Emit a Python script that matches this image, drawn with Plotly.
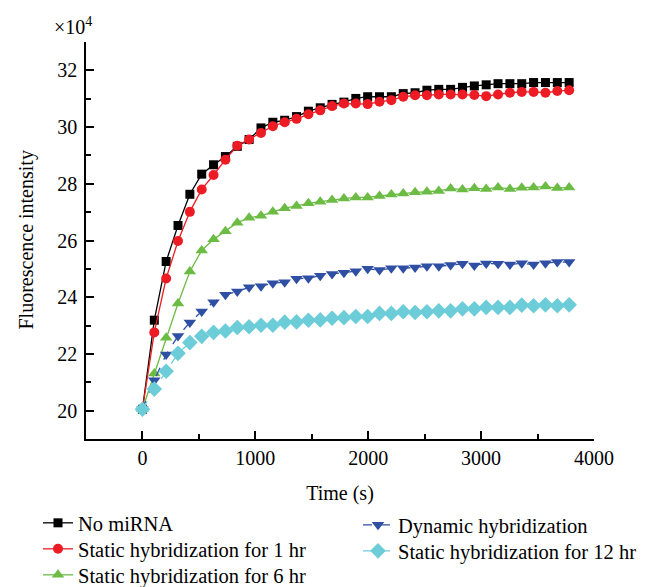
import plotly.graph_objects as go

time_s = [0, 105, 210, 315, 420, 525, 630, 735, 840, 945, 1050, 1155, 1260, 1365,
          1470, 1575, 1680, 1785, 1890, 1995, 2100, 2205, 2310, 2415, 2520, 2625,
          2730, 2835, 2940, 3045, 3150, 3255, 3360, 3465, 3570, 3675, 3780]

no_mirna = [20.05, 23.19, 25.26, 26.53, 27.63, 28.34, 28.67, 28.96, 29.32, 29.56,
            29.97, 30.17, 30.24, 30.37, 30.56, 30.68, 30.80, 30.88, 31.01, 31.07,
            31.07, 31.07, 31.18, 31.21, 31.30, 31.33, 31.33, 31.40, 31.45, 31.49,
            31.53, 31.53, 31.53, 31.57, 31.57, 31.57, 31.57]
static_1hr = [20.05, 22.76, 24.66, 25.98, 27.01, 27.80, 28.31, 28.85, 29.34, 29.56,
              29.79, 30.03, 30.17, 30.29, 30.45, 30.59, 30.74, 30.83, 30.83, 30.81,
              30.89, 30.95, 31.07, 31.12, 31.12, 31.15, 31.15, 31.15, 31.13, 31.09,
              31.15, 31.21, 31.24, 31.24, 31.21, 31.27, 31.30]
static_6hr = [20.05, 21.31, 22.57, 23.78, 24.91, 25.65, 26.04, 26.33, 26.63, 26.80,
              26.87, 27.01, 27.14, 27.22, 27.31, 27.37, 27.43, 27.48, 27.52, 27.52,
              27.57, 27.62, 27.66, 27.70, 27.72, 27.75, 27.83, 27.80, 27.84, 27.82,
              27.87, 27.82, 27.86, 27.87, 27.90, 27.85, 27.87]
dynamic = [20.05, 21.07, 21.98, 22.63, 23.11, 23.50, 23.82, 24.09, 24.20, 24.35,
           24.39, 24.49, 24.53, 24.65, 24.67, 24.76, 24.82, 24.86, 24.92, 25.00,
           24.96, 25.02, 25.02, 25.05, 25.09, 25.09, 25.14, 25.18, 25.12, 25.19,
           25.18, 25.15, 25.20, 25.15, 25.20, 25.24, 25.24]
static_12hr = [20.05, 20.76, 21.39, 22.02, 22.40, 22.62, 22.76, 22.81, 22.93, 22.96,
               23.01, 23.01, 23.12, 23.13, 23.19, 23.20, 23.26, 23.28, 23.32, 23.32,
               23.43, 23.43, 23.49, 23.46, 23.49, 23.52, 23.52, 23.59, 23.59, 23.64,
               23.64, 23.64, 23.72, 23.70, 23.73, 23.70, 23.73]

series_names = ["No miRNA", "Static hybridization for 1 hr", "Static hybridization for 6 hr",
                "Dynamic hybridization", "Static hybridization for 12 hr"]

x_ticks = [0, 1000, 2000, 3000, 4000]
y_ticks = [20, 22, 24, 26, 28, 30, 32]

FONT = "Liberation Serif"
fig = go.Figure()

styles = [
    (no_mirna, "#000000", "square", 9, "solid", "legend"),
    (static_1hr, "#ED1C24", "circle", 10, "solid", "legend2"),
    (static_6hr, "#6CBB45", "triangle-up", 11, "solid", "legend3"),
    (dynamic, "#2E4FA3", "triangle-down", 11, "dash", "legend4"),
    (static_12hr, "#6CCDD9", "diamond", 12, "dash", "legend5"),
]
for name, (vals, color, sym, size, dash, lg) in zip(series_names, styles):
    fig.add_trace(go.Scatter(
        x=time_s, y=vals, name=name, mode="lines+markers",
        line=dict(color=color, width=1.3, dash=dash),
        marker=dict(symbol=sym, size=size, color=color),
        legend=lg, showlegend=True,
    ))

PLOT_TOP, PLOT_BOTTOM, PLOT_LEFT, PLOT_RIGHT = 34, 431, 78, 586
H = PLOT_BOTTOM - PLOT_TOP
W = PLOT_RIGHT - PLOT_LEFT


def leg(px_left, py_center):
    return dict(x=(px_left - PLOT_LEFT) / W, y=(PLOT_BOTTOM - py_center) / H,
                xanchor="left", yanchor="middle", bgcolor="rgba(0,0,0,0)",
                font=dict(family=FONT, size=20.5), itemwidth=30,
                borderwidth=0, visible=True)


fig.update_layout(
    width=646, height=587,
    showlegend=True,
    margin=dict(l=PLOT_LEFT, r=646 - PLOT_RIGHT, t=PLOT_TOP, b=587 - PLOT_BOTTOM,
                autoexpand=False),
    paper_bgcolor="white", plot_bgcolor="white",
    font=dict(family=FONT, size=20, color="black"),
    legend=leg(30, 515),
    legend2=leg(30, 541),
    legend3=leg(30, 567),
    legend4=leg(350, 517),
    legend5=leg(350, 543),
    xaxis=dict(range=[-500, 4000], tickvals=x_ticks,
               showline=True, linecolor="black", linewidth=1.5, mirror=False,
               ticks="inside", ticklen=8, tickwidth=1.5, tickcolor="black",
               tickfont=dict(family=FONT, size=20),
               minor=dict(tickvals=[500, 1500, 2500, 3500], ticks="inside", ticklen=5,
                          tickwidth=1.5, tickcolor="black"),
               showgrid=False, zeroline=False,
               title=dict(text="Time (s)", font=dict(family=FONT, size=20), standoff=18)),
    yaxis=dict(range=[19, 33], tickvals=y_ticks,
               showline=True, linecolor="black", linewidth=1.5, mirror=False,
               ticks="inside", ticklen=8, tickwidth=1.5, tickcolor="black",
               tickfont=dict(family=FONT, size=20), ticklabelstandoff=3,
               minor=dict(tickvals=[21, 23, 25, 27, 29, 31, 33], ticks="inside", ticklen=5,
                          tickwidth=1.5, tickcolor="black"),
               showgrid=False, zeroline=False),
    annotations=[
        dict(text="×10<sup>4</sup>", xref="paper", yref="paper", x=-0.026, y=1,
             xanchor="center", yanchor="bottom", showarrow=False,
             font=dict(family=FONT, size=20), yshift=2),
        dict(text="Fluorescence intensity", xref="paper", yref="paper",
             x=(18 - PLOT_LEFT) / W, y=0.5, xanchor="center", yanchor="middle",
             textangle=-90, showarrow=False, font=dict(family=FONT, size=20)),
    ],
)

fig.write_html("out.html")
